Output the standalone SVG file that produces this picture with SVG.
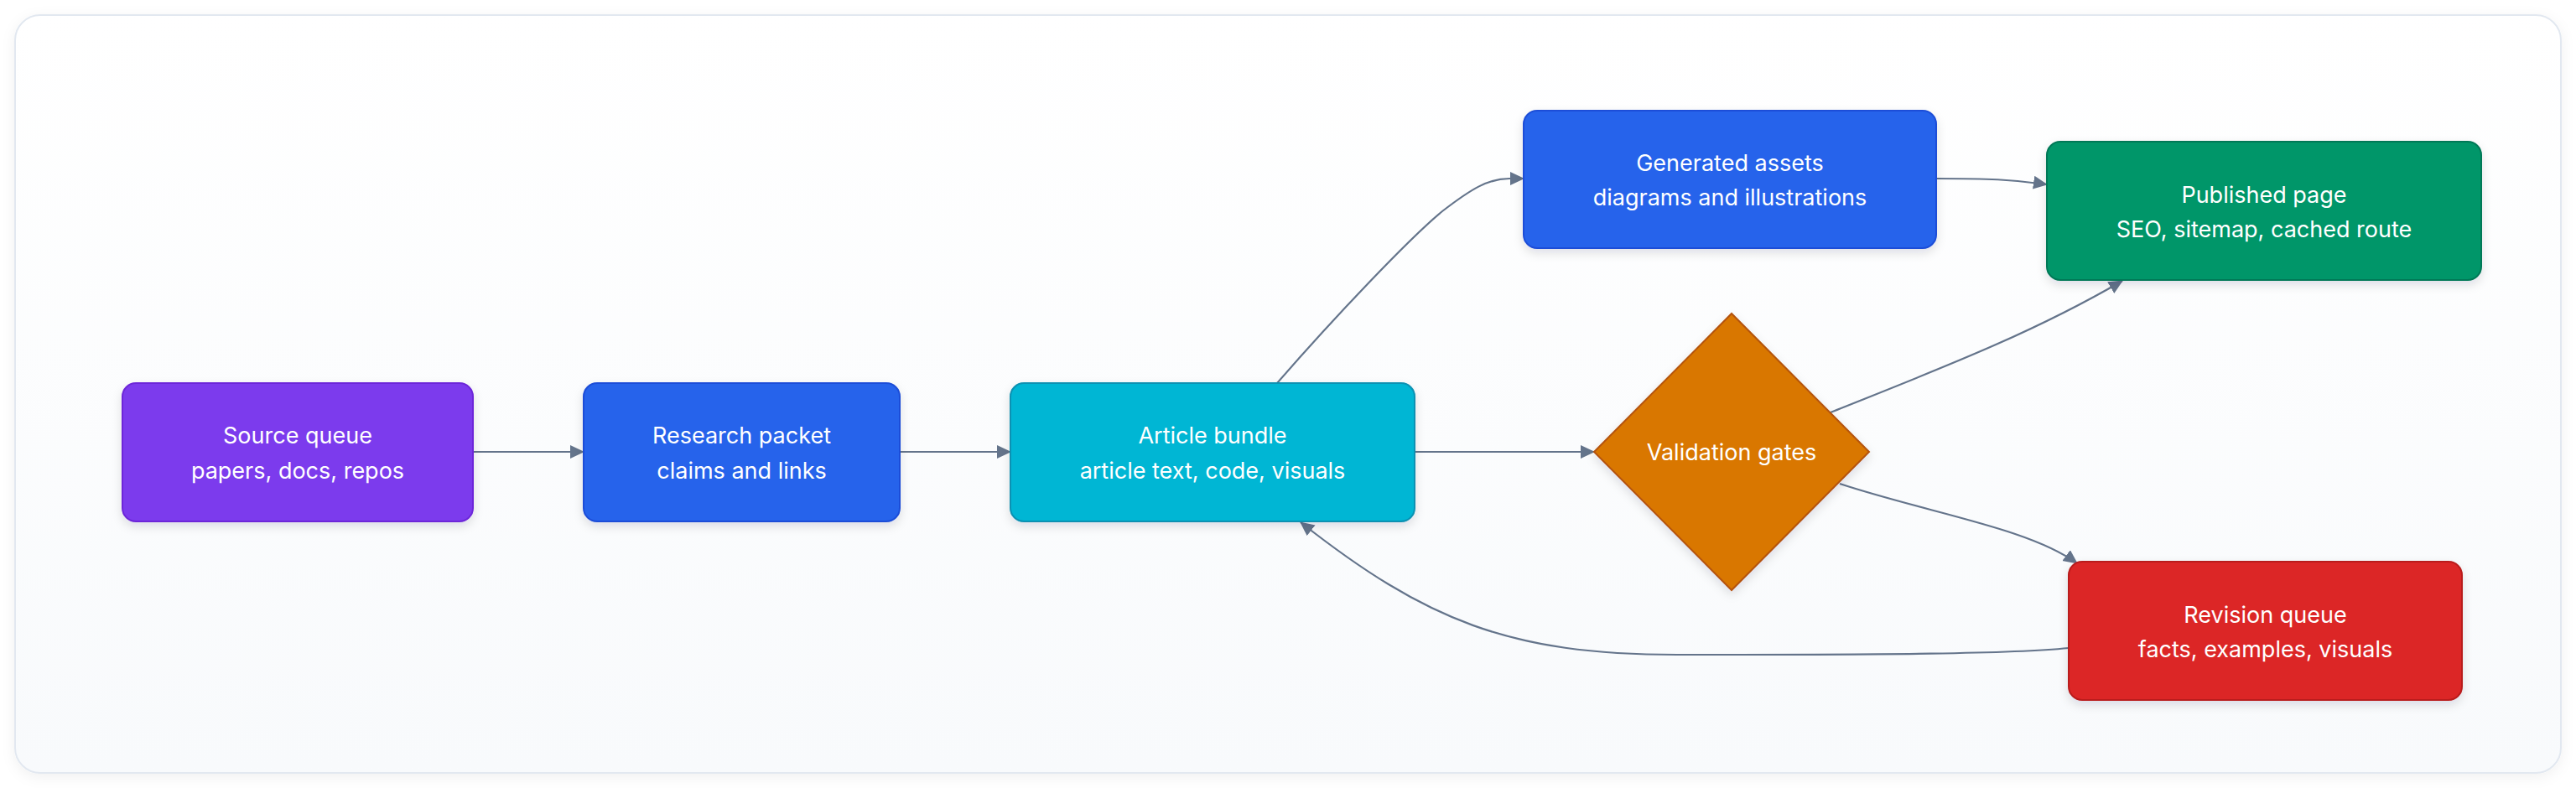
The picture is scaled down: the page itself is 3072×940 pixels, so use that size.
<svg xmlns="http://www.w3.org/2000/svg" width="3072" height="940" viewBox="0 0 3072 940">
<defs>
<linearGradient id="bg" x1="0" y1="0" x2="0" y2="1">
<stop offset="0" stop-color="#ffffff"/>
<stop offset="1" stop-color="#f8fafc"/>
</linearGradient>
<filter id="cshadow" x="-5%" y="-10%" width="110%" height="120%">
<feDropShadow dx="0" dy="4" stdDeviation="8" flood-color="#0f172a" flood-opacity="0.06"/>
</filter>
<filter id="nshadow" x="-10%" y="-10%" width="120%" height="130%">
<feDropShadow dx="0" dy="5" stdDeviation="6" flood-color="#0f172a" flood-opacity="0.12"/>
</filter>
<marker id="arrow" markerUnits="userSpaceOnUse" markerWidth="18" markerHeight="18" viewBox="0 0 18 18" refX="16" refY="8" orient="auto">
<path d="M0,0 L17,8 L0,16 z" fill="#64748b"/>
</marker>
<style>
.edge{fill:none;stroke:#64748b;stroke-width:2.2;marker-end:url(#arrow)}
.node{filter:url(#nshadow);stroke-width:2}
.lbl{font-family:Inter,"Noto Sans","Liberation Sans",sans-serif;font-size:27px;fill:#ffffff;text-anchor:middle}
</style>
</defs>
<rect x="0" y="0" width="3072" height="940" fill="#ffffff"/>
<rect x="18" y="18" width="3036" height="904" rx="30" fill="url(#bg)" stroke="#e2e8f0" stroke-width="2" filter="url(#cshadow)"/>
<g id="connectors">
<path class="edge" d="M564,539 L696,539"/>
<path class="edge" d="M1073,539 L1205,539"/>
<path class="edge" d="M1687,539 L1901,539"/>
<path class="edge" d="M1523,457 C1590,380 1680,285 1720,252 C1755,225 1775,213 1800,213 L1817,213"/>
<path class="edge" d="M2309,213 C2370,213 2400,214 2441,220"/>
<path class="edge" d="M2183,492 C2300,445 2420,400 2531,335"/>
<path class="edge" d="M2194,577 C2300,612 2420,630 2477,672"/>
<path class="edge" d="M2467,773 C2400,780 2250,781 2000,781 C1800,781 1700,740 1551,623"/>
</g>
<g id="source-queue">
<rect class="node" x="146" y="457" width="418" height="165" rx="16" fill="#7c3aed" stroke="#6d28d9"/>
<text class="lbl" x="355" y="529">Source queue</text>
<text class="lbl" x="355" y="571">papers, docs, repos</text>
</g>
<g id="research-packet">
<rect class="node" x="696" y="457" width="377" height="165" rx="16" fill="#2563eb" stroke="#1d4ed8"/>
<text class="lbl" x="884.5" y="529">Research packet</text>
<text class="lbl" x="884.5" y="571">claims and links</text>
</g>
<g id="article-bundle">
<rect class="node" x="1205" y="457" width="482" height="165" rx="16" fill="#06b6d4" stroke="#0891b2"/>
<text class="lbl" x="1446" y="529">Article bundle</text>
<text class="lbl" x="1446" y="571">article text, code, visuals</text>
</g>
<g id="validation-gates">
<polygon class="node" points="2065,374 2229,539 2065,704 1901,539" fill="#d97706" stroke="#b45309"/>
<text class="lbl" x="2065" y="549">Validation gates</text>
</g>
<g id="generated-assets">
<rect class="node" x="1817" y="132" width="492" height="164" rx="16" fill="#2563eb" stroke="#1d4ed8"/>
<text class="lbl" x="2063" y="204">Generated assets</text>
<text class="lbl" x="2063" y="245">diagrams and illustrations</text>
</g>
<g id="published-page">
<rect class="node" x="2441" y="169" width="518" height="165" rx="16" fill="#059669" stroke="#047857"/>
<text class="lbl" x="2700" y="242">Published page</text>
<text class="lbl" x="2700" y="283">SEO, sitemap, cached route</text>
</g>
<g id="revision-queue">
<rect class="node" x="2467" y="670" width="469" height="165" rx="16" fill="#dc2626" stroke="#b91c1c"/>
<text class="lbl" x="2701.5" y="743">Revision queue</text>
<text class="lbl" x="2701.5" y="784">facts, examples, visuals</text>
</g>
</svg>
